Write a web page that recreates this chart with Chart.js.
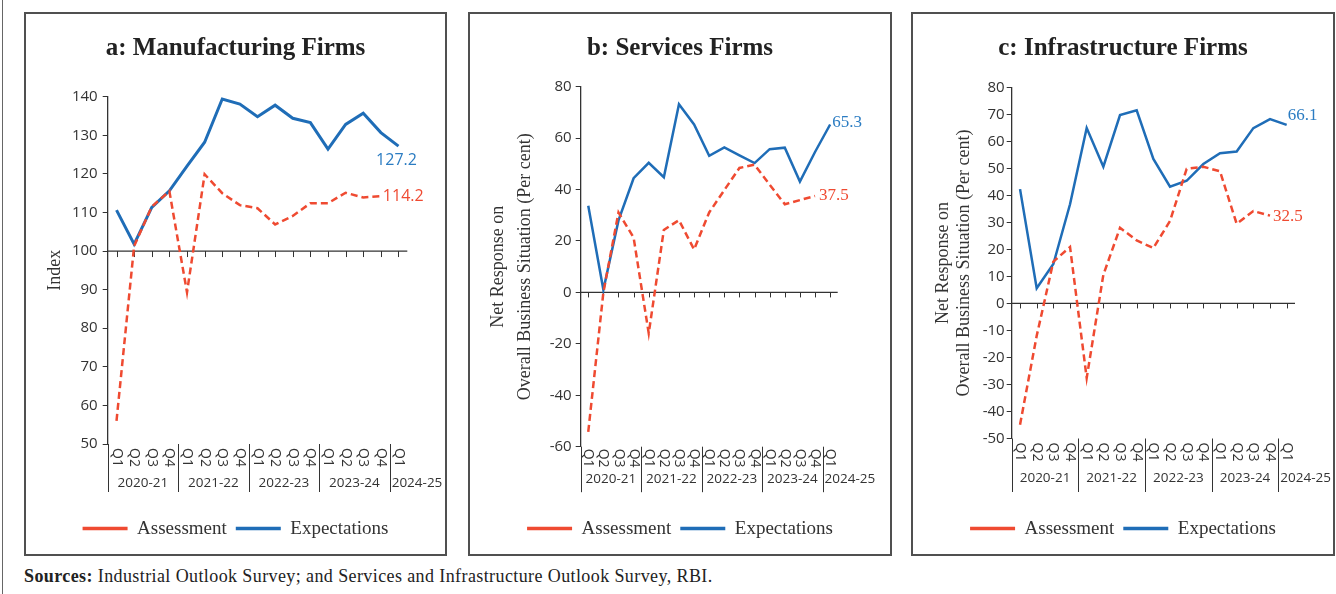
<!DOCTYPE html>
<html>
<head>
<meta charset="utf-8">
<script src="https://cdn.jsdelivr.net/npm/chart.js@4.4.1/dist/chart.umd.min.js"></script>
<style>
  html, body { margin:0; padding:0; background:#fff; }
  body { width:1336px; height:594px; position:relative; overflow:hidden; }
  .outer { position:absolute; left:2px; top:0; width:0; height:594px; border-left:1.5px solid #666; }
  .panel { position:absolute; top:12px; height:544px; box-sizing:border-box; border:2px solid #505050; }
  .panel canvas { display:block; }
  .src { position:absolute; left:24px; top:568px; font:18px 'Liberation Serif', serif; letter-spacing:0.4px; line-height:17px; color:#222; white-space:nowrap; }
</style>
</head>
<body>
<div class="outer"></div>
<div class="panel" style="left:24px;width:423px"><canvas id="cA" width="419" height="540"></canvas></div>
<div class="panel" style="left:468px;width:424px"><canvas id="cB" width="420" height="540"></canvas></div>
<div class="panel" style="left:911px;width:424px"><canvas id="cC" width="420" height="540"></canvas></div>
<div class="src"><b>Sources:</b> Industrial Outlook Survey; and Services and Infrastructure Outlook Survey, RBI.</div>
<script>
// ---------- data ----------
const quarters = ['Q1','Q2','Q3','Q4','Q1','Q2','Q3','Q4','Q1','Q2','Q3','Q4','Q1','Q2','Q3','Q4','Q1'];
const fiscalYears = ['2020-21','2021-22','2022-23','2023-24','2024-25'];
const quartersPerYear = [4,4,4,4,1];

const mfgAssessment   = [56.0, 101.3, 111.5, 115.5, 89.3, 119.9, 115.0, 111.9, 111.1, 106.9, 109.1, 112.4, 112.4, 115.1, 113.9, 114.2];
const mfgExpectations = [110.6, 101.8, 111.3, 115.6, 122.0, 128.2, 139.4, 138.1, 134.8, 137.8, 134.4, 133.3, 126.4, 132.8, 135.7, 130.7, 127.2];

const svcAssessment   = [-54.2, 0.0, 31.1, 21.3, -15.9, 24.3, 28.1, 16.7, 31.1, 39.8, 48.4, 49.7, 41.9, 34.3, 35.9, 37.5];
const svcExpectations = [33.7, 1.0, 28.0, 44.4, 50.4, 44.8, 73.2, 65.3, 53.1, 56.4, 53.3, 50.3, 55.7, 56.3, 43.1, 54.6, 65.3];

const infAssessment   = [-44.9, -12.0, 15.5, 20.9, -27.6, 10.6, 28.0, 23.3, 20.5, 30.5, 49.8, 50.6, 48.9, 29.5, 34.2, 32.5];
const infExpectations = [42.3, 5.6, 14.6, 36.7, 64.9, 50.6, 69.7, 71.5, 53.5, 43.2, 45.4, 51.6, 55.6, 56.2, 64.9, 68.2, 66.1];

// ---------- styling ----------
const RED = '#ef4a31', BLUE = '#1f6db7', BLUE_LBL = '#2b7cc2', AXIS = '#333', TXT = '#333';
const SANS = "'Open Sans', sans-serif", SERIF = "'Liberation Serif', serif";
Chart.defaults.font.family = SANS;
Chart.defaults.color = TXT;

const groupAxis = {
  id: 'groupAxis',
  beforeDatasetsDraw(chart, args, o) {
    const {ctx, chartArea} = chart;
    const xs = chart.scales.x, ys = chart.scales.y;
    const by = ys.getPixelForValue(o.baseValue);
    ctx.save();
    ctx.strokeStyle = AXIS;
    ctx.lineWidth = 1.3;
    ctx.beginPath();
    ctx.moveTo(chartArea.left, by); ctx.lineTo(chartArea.right, by);
    ctx.stroke();
    ctx.lineWidth = 1;
    ctx.beginPath();
    for (let i = 0; i < quarters.length; i++) {
      const px = Math.round(xs.getPixelForValue(i)) + 0.5;
      ctx.moveTo(px, by); ctx.lineTo(px, by + o.tickLen);
    }
    ctx.stroke();
    // y-axis extension + year separators
    const half = (xs.getPixelForValue(1) - xs.getPixelForValue(0)) / 2;
    ctx.beginPath();
    let k = 0;
    const bounds = [];
    quartersPerYear.forEach(n => { bounds.push(k); k += n; });
    bounds.forEach(b => {
      const px = Math.round(xs.getPixelForValue(b) - half) + 0.5;
      ctx.moveTo(px, chartArea.bottom); ctx.lineTo(px, chartArea.bottom + o.sepLen);
    });
    ctx.stroke();
    // quarter labels (rotated clockwise)
    ctx.fillStyle = TXT;
    ctx.font = "14px " + SANS;
    ctx.textAlign = 'left';
    ctx.textBaseline = 'middle';
    quarters.forEach((q, i) => {
      ctx.save();
      ctx.translate(xs.getPixelForValue(i), chartArea.bottom + o.qTop);
      ctx.rotate(Math.PI / 2);
      ctx.fillText(q, 0, 0);
      ctx.restore();
    });
    // fiscal-year labels
    ctx.font = "13.5px " + SANS;
    bounds.forEach((b, gi) => {
      const n = quartersPerYear[gi];
      const left = xs.getPixelForValue(b) - half;
      const yy = chartArea.bottom + o.yearY;
      if (n > 1) {
        ctx.textAlign = 'center';
        ctx.fillText(fiscalYears[gi], left + n * half, yy);
      } else {
        ctx.textAlign = 'left';
        ctx.fillText(fiscalYears[gi], left + 2, yy);
      }
    });
    ctx.restore();
  }
};

const endLabels = {
  id: 'endLabels',
  afterDatasetsDraw(chart, args, o) {
    const {ctx} = chart;
    ctx.save();
    ctx.font = o.font;
    ctx.textBaseline = 'middle';
    o.items.forEach(it => {
      const meta = chart.getDatasetMeta(it.ds);
      const data = chart.data.datasets[it.ds].data;
      const pt = meta.data[meta.data.length - 1];
      ctx.fillStyle = it.color;
      ctx.textAlign = it.align;
      ctx.fillText(data[data.length - 1].toFixed(1), pt.x + it.dx, pt.y + it.dy);
    });
    ctx.restore();
  }
};

function legendLabels(chart) {
  const items = Chart.defaults.plugins.legend.labels.generateLabels(chart);
  items.forEach(it => {
    it.lineWidth = 3.5;
    if (it.lineDash && it.lineDash.length) it.lineDash = [6, 3];
  });
  return items;
}

function makeChart(id, cfg) {
  return new Chart(document.getElementById(id), {
    type: 'line',
    data: {
      labels: quarters,
      datasets: [
        { label: 'Assessment', data: cfg.assess, borderColor: RED, backgroundColor: RED,
          borderWidth: 2.5, borderDash: [7, 4], pointRadius: 0, tension: 0 },
        { label: 'Expectations', data: cfg.expect, borderColor: BLUE, backgroundColor: BLUE,
          borderWidth: cfg.blueW, pointRadius: 0, tension: 0 }
      ]
    },
    plugins: [groupAxis, endLabels],
    options: {
      responsive: false,
      devicePixelRatio: 1,
      animation: false,
      layout: { padding: { top: 0, left: 0, right: 0, bottom: 5.9 } },
      scales: {
        x: {
          type: 'category', offset: true,
          grid: { display: false }, border: { display: false },
          ticks: { display: false },
          afterFit(s) { s.height = cfg.xH; }
        },
        y: {
          position: 'left', min: cfg.min, max: cfg.max,
          ticks: { stepSize: cfg.step, padding: cfg.tickPad, color: TXT, font: { size: 15, family: SANS } },
          grid: { display: true, drawOnChartArea: false, drawTicks: true, tickLength: 5, color: AXIS },
          border: { display: true, color: AXIS, width: 1.3 },
          title: { display: true, text: cfg.yTitle, color: TXT,
                   font: { family: SERIF, size: 18, lineHeight: cfg.yLH }, padding: { top: cfg.yTitlePad, bottom: 0 } },
          afterFit(s) { s.width = cfg.left; }
        },
        yR: {
          position: 'right', display: true,
          grid: { display: false }, border: { display: false }, ticks: { display: false },
          afterFit(s) { s.width = cfg.right; }
        }
      },
      plugins: {
        title: { display: true, text: cfg.title, color: '#222',
                 font: { family: SERIF, size: 25, weight: 'bold', lineHeight: 1.2 },
                 padding: { top: 19.3, bottom: cfg.titlePadB } },
        legend: {
          position: 'bottom',
          labels: { usePointStyle: true, pointStyle: 'line', pointStyleWidth: 45,
                    font: { family: SERIF, size: 19 }, color: TXT, padding: 9,
                    generateLabels: legendLabels }
        },
        tooltip: { enabled: false },
        groupAxis: cfg.group,
        endLabels: cfg.labels
      }
    }
  });
}

makeChart('cA', {
  title: 'a: Manufacturing Firms', assess: mfgAssessment, expect: mfgExpectations, blueW: 3,
  min: 50, max: 140, step: 10, tickPad: 5, yTitle: 'Index', yLH: 1.2, yTitlePad: 18.8,
  left: 81.7, right: 37.7, titlePadB: 33.4, xH: 66.1,
  group: { baseValue: 100, tickLen: 6, qTop: 4, yearY: 39, sepLen: 48 },
  labels: { font: "16px " + SANS, items: [
    { ds: 1, color: BLUE_LBL, align: 'center', dx: -2, dy: 14 },
    { ds: 0, color: RED, align: 'left', dx: 2, dy: 0 } ] }
});
makeChart('cB', {
  title: 'b: Services Firms', assess: svcAssessment, expect: svcExpectations, blueW: 2.5,
  min: -60, max: 80, step: 20, tickPad: 4, yTitle: ['Net Response on', 'Overall Business Situation (Per cent)'],
  yLH: 1.52, yTitlePad: 14.5,
  left: 110.7, right: 52.3, titlePadB: 23.4, xH: 63.4,
  group: { baseValue: 0, tickLen: 5, qTop: 2, yearY: 32, sepLen: 45.5 },
  labels: { font: "17px " + SERIF, items: [
    { ds: 1, color: BLUE_LBL, align: 'left', dx: 2, dy: -2 },
    { ds: 0, color: RED, align: 'left', dx: 4, dy: 0 } ] }
});
makeChart('cC', {
  title: 'c: Infrastructure Firms', assess: infAssessment, expect: infExpectations, blueW: 2.5,
  min: -50, max: 80, step: 10, tickPad: 2, yTitle: ['Net Response on', 'Overall Business Situation (Per cent)'],
  yLH: 1.167, yTitlePad: 19.7,
  left: 98.7, right: 38, titlePadB: 24, xH: 71.6,
  group: { baseValue: 0, tickLen: 5, qTop: 4, yearY: 40, sepLen: 53.5 },
  labels: { font: "17px " + SERIF, items: [
    { ds: 1, color: BLUE_LBL, align: 'left', dx: 1, dy: -9 },
    { ds: 0, color: RED, align: 'left', dx: 3, dy: 1 } ] }
});
</script>
</body>
</html>
